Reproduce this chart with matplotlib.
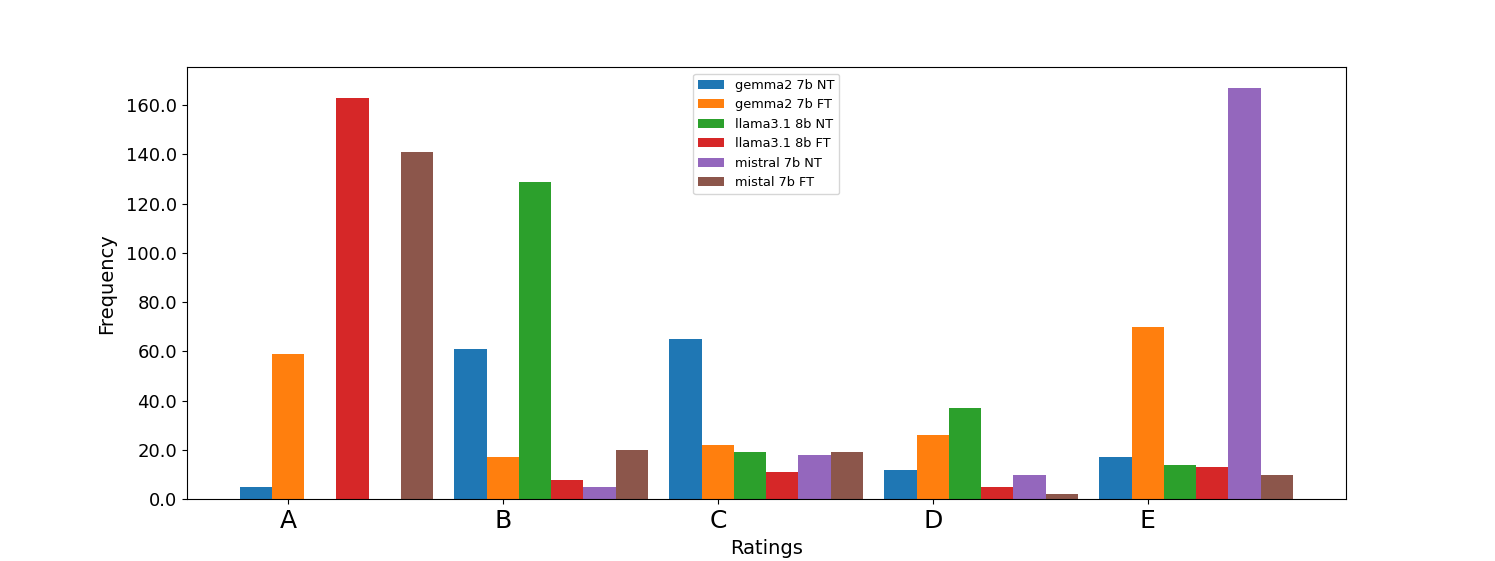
import numpy as np
import matplotlib
matplotlib.use("Agg")
import matplotlib.pyplot as plt
from matplotlib.ticker import FormatStrFormatter

ratings = ["A", "B", "C", "D", "E"]
gemma_nt = [5, 61, 65, 12, 17]
gemma_ft = [59, 17, 22, 26, 70]
llama_nt = [0, 129, 19, 37, 14]
llama_ft = [163, 8, 11, 5, 13]
mistral_nt = [0, 5, 18, 10, 167]
mistral_ft = [141, 20, 19, 2, 10]

series = [gemma_nt, gemma_ft, llama_nt, llama_ft, mistral_nt, mistral_ft]
labels = ["gemma2 7b NT", "gemma2 7b FT", "llama3.1 8b NT",
          "llama3.1 8b FT", "mistral 7b NT", "mistal 7b FT"]

x = np.arange(len(ratings))
width = 0.15

fig, ax = plt.subplots(figsize=(14.95, 5.61), dpi=100)
for i, (vals, lab) in enumerate(zip(series, labels)):
    ax.bar(x + i * width, vals, width, label=lab)

ax.set_xticks(x + width)
ax.set_xticklabels(ratings, fontsize=18)
ax.yaxis.set_major_formatter(FormatStrFormatter("%.1f"))
ax.tick_params(axis="y", labelsize=13)
ax.set_xlabel("Ratings", fontsize=14)
ax.set_ylabel("Frequency", fontsize=14, labelpad=7)
ax.legend(loc="upper center", fontsize=9.3)

plt.savefig("out.png")
